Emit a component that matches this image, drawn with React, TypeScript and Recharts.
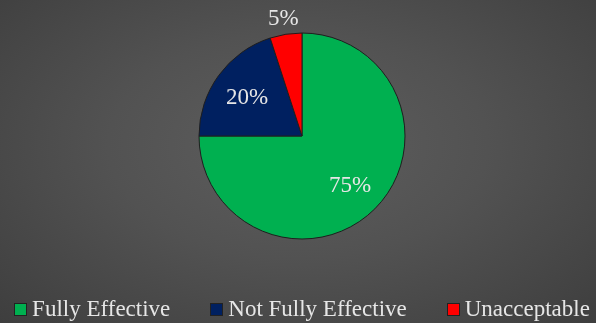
import React from "react";
import { PieChart, Pie, Cell, Legend } from "recharts";

const CATEGORIES = ["Fully Effective", "Not Fully Effective", "Unacceptable"];
const VALUES = [75, 20, 5];
const COLORS = ["#00B050", "#002060", "#FF0000"];

const data = CATEGORIES.map((name, i) => ({ name, value: VALUES[i] }));

const FONT = "'Liberation Serif', 'DejaVu Serif', serif";
const RADIAN = Math.PI / 180;

const renderLabel = (props: any) => {
  const { cx, cy, midAngle, outerRadius, percent } = props;
  const r = percent < 0.1 ? outerRadius + 17 : outerRadius * 0.66;
  const x = cx + r * Math.cos(-midAngle * RADIAN);
  const y = cy + r * Math.sin(-midAngle * RADIAN);
  return (
    <text
      x={x}
      y={y}
      fill="#e6e6e6"
      textAnchor="middle"
      dominantBaseline="central"
      fontFamily={FONT}
      fontSize={23}
    >
      {`${Math.round(percent * 100)}%`}
    </text>
  );
};

const renderLegend = (props: any) => {
  const { payload } = props;
  return (
    <div
      style={{
        display: "flex",
        justifyContent: "center",
        gap: 40,
        paddingLeft: 8,
        fontFamily: FONT,
        fontSize: 23,
        color: "#e6e6e6",
      }}
    >
      {payload.map((entry: any, i: number) => (
        <div key={`legend-${i}`} style={{ display: "flex", alignItems: "center" }}>
          <span
            style={{
              display: "inline-block",
              width: 11,
              height: 11,
              background: entry.color,
              border: "1px solid #222",
              marginRight: 5,
            }}
          />
          <span>{entry.value}</span>
        </div>
      ))}
    </div>
  );
};

export default function App() {
  return (
    <div
      style={{
        position: "fixed",
        top: 0,
        left: 0,
        width: 596,
        height: 323,
        background: "radial-gradient(ellipse at 50% 45%, #5e5e5e 0%, #525252 45%, #3e3e3e 100%)",
      }}
    >
      <PieChart width={596} height={323} margin={{ top: 0, right: 0, bottom: 0, left: 0 }}>
        <Pie
          data={data}
          dataKey="value"
          nameKey="name"
          cx={302}
          cy={136}
          outerRadius={103}
          startAngle={90}
          endAngle={-270}
          stroke="#1e1e1e"
          strokeWidth={1}
          label={renderLabel}
          labelLine={false}
          isAnimationActive={false}
        >
          {data.map((_, index) => (
            <Cell key={`cell-${index}`} fill={COLORS[index]} />
          ))}
        </Pie>
        <Legend
          content={renderLegend}
          verticalAlign="bottom"
          wrapperStyle={{ bottom: 1, left: 0, width: 596 }}
        />
      </PieChart>
    </div>
  );
}
